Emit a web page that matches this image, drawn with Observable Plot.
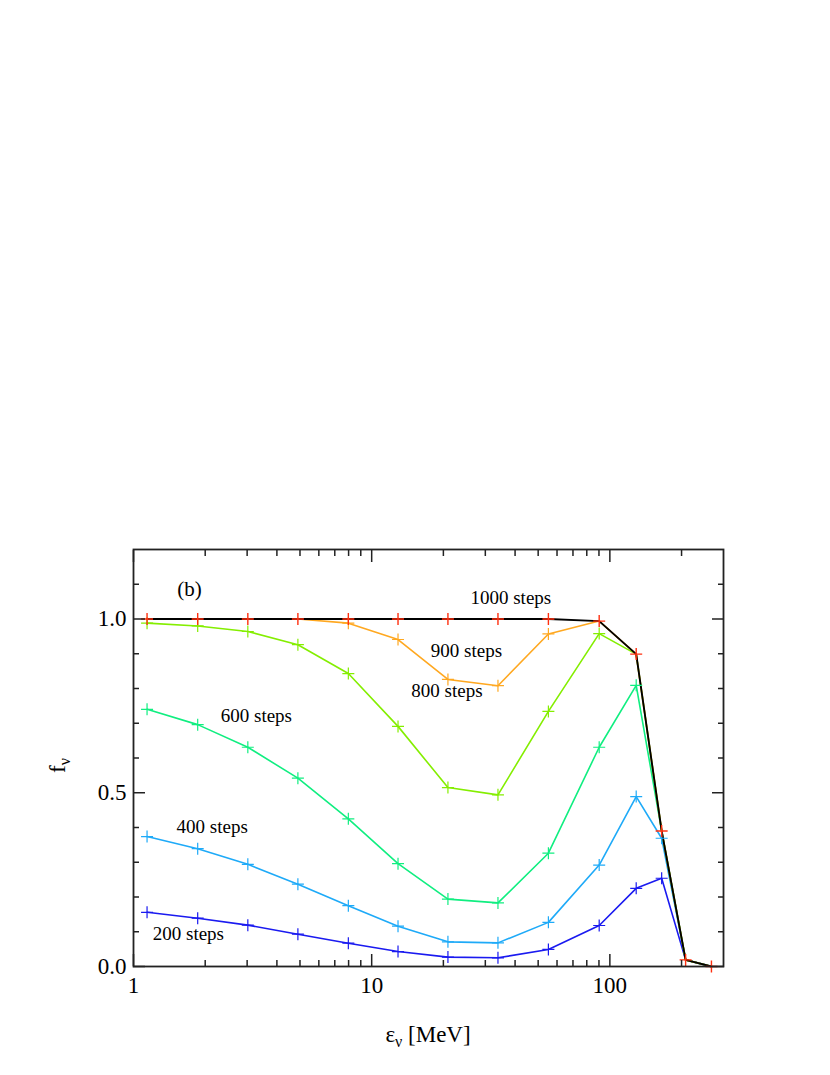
<!DOCTYPE html>
<html><head><meta charset="utf-8">
<script src="https://cdn.jsdelivr.net/npm/d3@7"></script>
<script src="https://cdn.jsdelivr.net/npm/@observablehq/plot@0.6"></script>
<style>body{margin:0;background:#fff} svg{display:block}</style>
</head><body><div id="chart"></div>
<script>
// ---- data ----
const energies = [1.14, 1.86, 3.02, 4.90, 7.98, 12.9, 20.9, 33.9, 55.2, 90.2, 129, 165, 208, 267];
const steps200  = [0.156, 0.139, 0.119, 0.093, 0.067, 0.043, 0.027, 0.025, 0.049, 0.118, 0.225, 0.254, 0.019, 0.0];
const steps400  = [0.374, 0.339, 0.294, 0.237, 0.175, 0.116, 0.071, 0.068, 0.127, 0.292, 0.489, 0.369, 0.019, 0.0];
const steps600  = [0.740, 0.696, 0.631, 0.542, 0.425, 0.296, 0.194, 0.183, 0.326, 0.631, 0.809, 0.390, 0.019, 0.0];
const steps800  = [0.988, 0.980, 0.964, 0.926, 0.843, 0.691, 0.515, 0.494, 0.734, 0.958, 0.899, 0.390, 0.019, 0.0];
const steps900  = [1.0, 1.0, 1.0, 1.0, 0.988, 0.941, 0.826, 0.808, 0.957, 0.994, 0.899, 0.390, 0.019, 0.0];
const steps1000 = [1.0, 1.0, 1.0, 1.0, 1.0, 1.0, 1.0, 1.0, 1.0, 0.994, 0.899, 0.390, 0.019, 0.0];

const seriesNames = ["200 steps", "400 steps", "600 steps", "800 steps", "900 steps", "1000 steps"];
const seriesValues = [steps200, steps400, steps600, steps800, steps900, steps1000];
const lineColors   = ["#1a1af0", "#1eaaf8", "#10ee80", "#84ee00", "#ffa820", "#000000"];
const markerColors = ["#1a1af0", "#1eaaf8", "#10ee80", "#84ee00", "#ffa820", "#ff3010"];

// in-plot annotations (data coordinates)
const annText = ["1000 steps", "900 steps", "800 steps", "600 steps", "400 steps", "200 steps"];
const annX = [38.4, 25.0, 20.7, 3.28, 2.14, 1.70];
const annY = [1.060, 0.908, 0.792, 0.720, 0.401, 0.094];

const xMajor = [1, 10, 100];
const xMinor = [2,3,4,5,6,7,8,9,20,30,40,50,60,70,80,90,200];
const yMajor = [0, 0.5, 1.0];
const yMinor = [0.1,0.2,0.3,0.4,0.6,0.7,0.8,0.9,1.1];

// thin "+" marker
const plus = {draw(ctx, size) {
  const r = Math.sqrt(size / Math.PI);
  ctx.moveTo(-r, 0); ctx.lineTo(r, 0);
  ctx.moveTo(0, -r); ctx.lineTo(0, r);
}};

const idx = energies.map((_, i) => i);
const last = seriesValues.length - 1;
const seriesMarks = [];
seriesValues.forEach((vals, k) => {
  seriesMarks.push(Plot.line(idx, {x: i => energies[i], y: i => vals[i], stroke: lineColors[k], strokeWidth: k === last ? 1.9 : 1.6}));
});
seriesValues.forEach((vals, k) => {
  // markers hidden beneath the 1000-step markers are not drawn
  const shown = k === last ? idx : idx.filter(i => Math.abs(vals[i] - steps1000[i]) > 0.004);
  seriesMarks.push(Plot.dot(shown, {x: i => energies[i], y: i => vals[i], symbol: plus, r: 6, stroke: markerColors[k], fill: "none", strokeWidth: k === last ? 1.4 : 1.2}));
});

const tickStyle = {stroke: "#222", strokeWidth: 1.5, label: null};
const chart = Plot.plot({
  width: 830, height: 1075,
  marginTop: 549, marginLeft: 133, marginRight: 107, marginBottom: 109,
  x: {type: "log", domain: [1, 300]},
  y: {domain: [0, 1.2]},
  style: {fontFamily: "'Liberation Serif', 'Times New Roman', serif", color: "#000", background: "#fff"},
  marks: [
    ...seriesMarks,
    Plot.text(annText, {x: (d, i) => annX[i], y: (d, i) => annY[i], text: d => d, fontSize: 19, fill: "#000"}),
    Plot.text(["(b)"], {x: [1.72], y: [1.085], text: d => d, fontSize: 21, fill: "#000"}),
    Plot.axisX({anchor: "bottom", ticks: xMajor, tickSize: -12, tickFormat: () => "", ...tickStyle}),
    Plot.axisX({anchor: "bottom", ticks: xMinor, tickSize: -6, tickFormat: () => "", ...tickStyle}),
    Plot.axisX({anchor: "top", ticks: xMajor, tickSize: -12, tickFormat: () => "", ...tickStyle}),
    Plot.axisX({anchor: "top", ticks: xMinor, tickSize: -6, tickFormat: () => "", ...tickStyle}),
    Plot.axisY({anchor: "left", ticks: yMajor, tickSize: -12, tickFormat: () => "", ...tickStyle}),
    Plot.axisY({anchor: "left", ticks: yMinor, tickSize: -6, tickFormat: () => "", ...tickStyle}),
    Plot.axisY({anchor: "right", ticks: yMajor, tickSize: -12, tickFormat: () => "", ...tickStyle}),
    Plot.axisY({anchor: "right", ticks: yMinor, tickSize: -6, tickFormat: () => "", ...tickStyle}),
    Plot.axisX({anchor: "bottom", ticks: xMajor, tickSize: 0, tickPadding: 10, tickFormat: d => String(d), fontSize: 23, label: null}),
    Plot.axisY({anchor: "left", ticks: yMajor, tickSize: 0, tickPadding: 7, tickFormat: d3.format(".1f"), fontSize: 23, label: null}),
    Plot.frame({stroke: "#222", strokeWidth: 1.8})
  ]
});

// axis titles with subscripts
const svg = d3.select(chart);
const xr = chart.scale("x").range, yr = chart.scale("y").range;
const xt = svg.append("text")
  .attr("x", (xr[0] + xr[1]) / 2).attr("y", yr[0] + 76)
  .attr("text-anchor", "middle").attr("font-size", 23)
  .attr("font-family", "'Liberation Serif', 'Times New Roman', serif").attr("fill", "#000");
xt.append("tspan").text("ε");
xt.append("tspan").attr("font-size", 16).attr("dy", 5).text("ν");
xt.append("tspan").attr("dy", -5).text(" [MeV]");

const yt = svg.append("text")
  .attr("transform", `translate(${xr[0] - 68},${(yr[0] + yr[1]) / 2 + 8}) rotate(-90)`)
  .attr("text-anchor", "middle").attr("font-size", 23)
  .attr("font-family", "'Liberation Serif', 'Times New Roman', serif").attr("fill", "#000");
yt.append("tspan").text("f");
yt.append("tspan").attr("font-size", 16).attr("dy", 5).text("ν");

document.getElementById("chart").appendChild(chart);
</script>
</body></html>
